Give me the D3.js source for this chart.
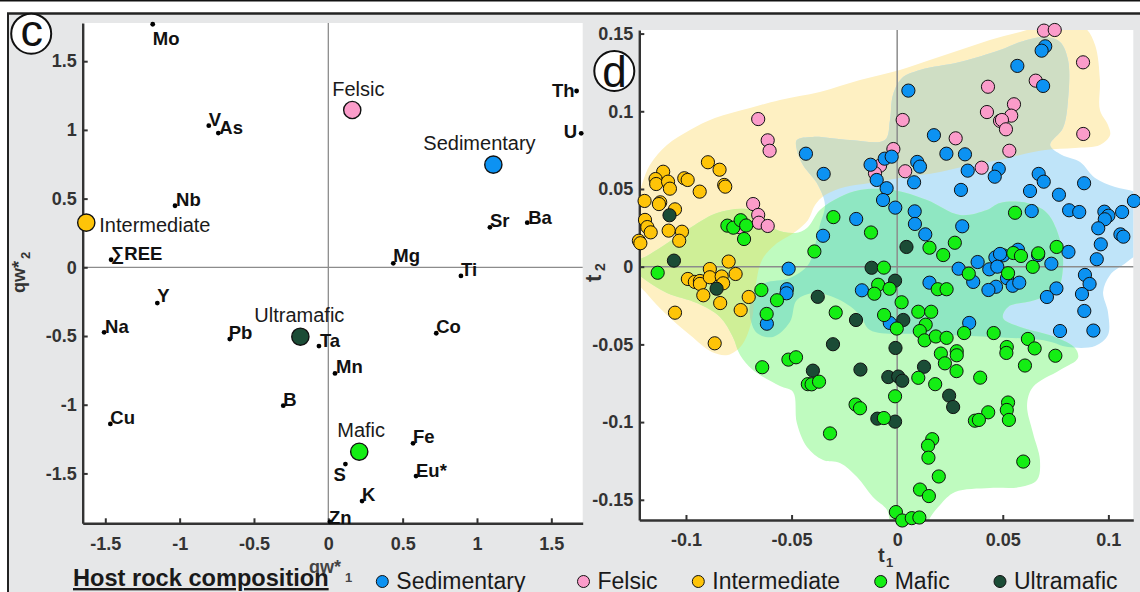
<!DOCTYPE html>
<html><head><meta charset="utf-8">
<script src="https://cdn.jsdelivr.net/npm/d3@7"></script>
<style>
body{margin:0;background:#fff;}
svg{display:block;}
</style></head><body>
<svg id="chart" width="1140" height="592"></svg>
<script>
// ---------- Panel c data ----------
const loadNames = ["Mo","V","As","Nb","∑REE","Y","Na","Pb","B","Cu","Ta","Mn","Co","Fe","Eu*","S","K","Zn","Mg","Ti","Sr","Ba","Th","U"];
const loadX = [-1.181,-0.804,-0.740,-1.031,-1.461,-1.150,-1.508,-0.663,-0.303,-1.466,-0.063,0.045,0.726,0.570,0.590,0.115,0.227,0.011,0.437,0.892,1.087,1.338,1.670,1.701];
const loadY = [1.769,1.031,0.977,0.448,0.055,-0.260,-0.473,-0.522,-1.007,-1.140,-0.573,-0.772,-0.480,-1.281,-1.519,-1.432,-1.701,-1.852,0.029,-0.063,0.291,0.325,1.283,0.975];
const groupNames = ["Sedimentary","Felsic","Intermediate","Mafic","Ultramafic"];
const centroidX = [1.110,0.161,-1.628,0.208,-0.188];
const centroidY = [0.747,1.145,0.325,-1.342,-0.505];
const ticksC = [-1.5,-1,-0.5,0,0.5,1,1.5];

// ---------- Panel d data (t1, t2) ----------
const ticksDx = [-0.1,-0.05,0,0.05,0.1];
const ticksDy = [-0.15,-0.1,-0.05,0,0.05,0.1,0.15];
const sedimentary = [[0.0701,0.1418],[0.0684,0.1390],[0.0569,0.1292],[0.0691,0.1163],[0.0053,0.1133],[0.0174,0.0846],[0.0233,0.0727],[0.0321,0.0723],[-0.0059,0.0695],[-0.0026,0.0708],[-0.0126,0.0656],[0.0095,0.0674],[0.0108,0.0644],[-0.0097,0.0558],[0.0080,0.0543],[0.0334,0.0618],[0.0481,0.0629],[0.0462,0.0579],[-0.0050,0.0505],[0.0302,0.0494],[0.0670,0.0597],[0.0694,0.0547],[0.0885,0.0537],[0.0629,0.0487],[0.0766,0.0463],[-0.0067,0.0429],[-0.0009,0.0380],[0.0083,0.0356],[0.0637,0.0358],[0.0814,0.0363],[0.0862,0.0352],[0.0981,0.0354],[0.1065,0.0352],[0.1121,0.0423],[0.1000,0.0328],[0.0983,0.0305],[0.0952,0.0247],[0.1057,0.0208],[0.1071,0.0193],[0.0084,0.0275],[0.0133,0.0208],[0.0308,0.0260],[0.0964,0.0144],[0.0945,0.0048],[0.0811,0.0095],[0.0667,0.0075],[0.0730,0.0019],[0.0572,0.0109],[0.0502,0.0073],[0.0465,0.0060],[0.0487,0.0082],[0.0436,-0.0017],[0.0474,0.0000],[0.0381,0.0030],[0.0291,-0.0013],[-0.0432,0.0727],[-0.0348,0.0597],[-0.0194,0.0307],[-0.0351,0.0199],[-0.0514,-0.0013],[0.0520,-0.0074],[0.0547,-0.0123],[0.0578,-0.0103],[0.0468,-0.0129],[0.0432,-0.0150],[0.0889,-0.0053],[0.0911,-0.0111],[0.0875,-0.0176],[0.0754,-0.0140],[0.0709,-0.0195],[0.0886,-0.0285],[0.0771,-0.0414],[0.0929,-0.0411],[0.0153,-0.0103],[0.0360,-0.0098],[-0.0167,-0.0152],[-0.0035,-0.0362],[0.0341,-0.0362],[-0.0522,-0.0145],[-0.0524,-0.0171],[-0.0617,-0.0367]];
const felsic = [[0.0695,0.1519],[0.0746,0.1523],[0.0880,0.1315],[0.0430,0.1158],[0.0656,0.1197],[0.0553,0.1045],[0.0425,0.0995],[0.0540,0.0972],[0.0487,0.0938],[0.0496,0.0944],[0.0515,0.0884],[0.0881,0.0854],[0.0026,0.0944],[0.0277,0.0826],[-0.0018,0.0757],[0.0531,0.0746],[-0.0081,0.0650],[-0.0105,0.0601],[0.0038,0.0614],[0.0400,0.0637],[-0.0658,0.0950],[-0.0613,0.0813],[-0.0604,0.0746],[-0.0682,0.0403],[-0.0658,0.0333],[-0.0655,0.0283],[-0.0613,0.0262],[-0.0745,0.0254]];
const intermediate = [[-0.0896,0.0672],[-0.0841,0.0624],[-0.1108,0.0611],[-0.1144,0.0564],[-0.1141,0.0532],[-0.1085,0.0547],[-0.1076,0.0502],[-0.1008,0.0569],[-0.0992,0.0558],[-0.0819,0.0526],[-0.0814,0.0515],[-0.0935,0.0483],[-0.1196,0.0423],[-0.1122,0.0414],[-0.1128,0.0403],[-0.1052,0.0369],[-0.1194,0.0301],[-0.1183,0.0255],[-0.1167,0.0221],[-0.1082,0.0232],[-0.1019,0.0225],[-0.1032,0.0167],[-0.1223,0.0167],[-0.1216,0.0151],[-0.0798,0.0033],[-0.0887,-0.0015],[-0.0991,-0.0079],[-0.0958,-0.0098],[-0.0934,-0.0092],[-0.0934,-0.0111],[-0.0887,-0.0068],[-0.0831,-0.0063],[-0.0765,-0.0047],[-0.0824,-0.0107],[-0.0918,-0.0184],[-0.0838,-0.0234],[-0.0703,-0.0195],[-0.0741,-0.0279],[-0.1052,-0.0296],[-0.0864,-0.0493]];
const mafic = [[-0.0804,0.0264],[-0.0776,0.0251],[-0.0741,0.0299],[-0.0715,0.0265],[-0.0725,0.0178],[-0.1134,-0.0039],[-0.0302,0.0319],[-0.0392,0.0098],[0.0558,0.0347],[-0.0124,0.0220],[0.0153,0.0122],[0.0218,0.0075],[0.0273,0.0154],[0.0755,0.0127],[0.0550,0.0088],[0.0586,0.0069],[0.0668,0.0086],[0.0642,-0.0001],[-0.0063,-0.0006],[0.0339,-0.0045],[0.0525,-0.0042],[-0.0643,-0.0150],[-0.0569,-0.0216],[-0.0618,-0.0304],[-0.0291,-0.0295],[-0.0090,-0.0116],[-0.0108,-0.0174],[-0.0036,-0.0142],[0.0021,-0.0229],[0.0100,-0.0290],[0.0161,-0.0290],[-0.0062,-0.0311],[-0.0002,-0.0398],[0.0192,-0.0145],[0.0234,-0.0145],[0.0317,-0.0427],[0.0135,-0.0373],[0.0107,-0.0414],[0.0130,-0.0474],[0.0183,-0.0449],[0.0234,-0.0458],[0.0457,-0.0427],[0.0619,-0.0465],[0.0651,-0.0526],[0.0519,-0.0517],[0.0517,-0.0555],[0.0749,-0.0573],[0.0207,-0.0559],[0.0282,-0.0544],[0.0282,-0.0570],[0.0226,-0.0622],[0.0281,-0.0672],[0.0605,-0.0636],[0.0100,-0.0715],[0.0180,-0.0756],[0.0393,-0.0714],[-0.0010,-0.0834],[-0.0197,-0.0887],[-0.0176,-0.0911],[0.0525,-0.0874],[0.0519,-0.0922],[0.0529,-0.0986],[0.0431,-0.0937],[0.0368,-0.0991],[0.0387,-0.0986],[-0.0063,-0.0974],[-0.0318,-0.1073],[0.0166,-0.1110],[0.0146,-0.1152],[0.0148,-0.1229],[0.0597,-0.1254],[0.0197,-0.1350],[0.0108,-0.1434],[0.0150,-0.1476],[-0.0006,-0.1579],[0.0024,-0.1633],[0.0069,-0.1618],[0.0105,-0.1614],[-0.0639,-0.0647],[-0.0515,-0.0598],[-0.0479,-0.0583],[-0.0423,-0.0756],[-0.0405,-0.0757],[-0.0370,-0.0740]];
const ultramafic = [[-0.1078,0.0331],[-0.1057,0.0039],[-0.0855,-0.0142],[0.0044,0.0127],[-0.0121,-0.0007],[-0.0010,-0.0090],[-0.0376,-0.0194],[-0.0195,-0.0343],[0.0029,-0.0343],[-0.0304,-0.0499],[-0.0008,-0.0523],[-0.0399,-0.0669],[-0.0174,-0.0662],[-0.0042,-0.0710],[0.0005,-0.0707],[0.0024,-0.0734],[0.0127,-0.0644],[0.0246,-0.0830],[0.0265,-0.0903],[-0.0094,-0.0978],[-0.0010,-0.0997]];

// ---------- Panel d shaded regions (outline vertices, t1/t2) ----------
const regionIntermediate = [[-0.1237,0.0397],[-0.1209,0.0526],[-0.1171,0.0654],[-0.1090,0.0783],[-0.0981,0.0880],[-0.0863,0.0957],[-0.0697,0.1021],[-0.0555,0.1073],[-0.0366,0.1124],[-0.0176,0.1201],[0.0013,0.1266],[0.0155,0.1330],[0.0297,0.1394],[0.0439,0.1459],[0.0582,0.1510],[0.0700,0.1555],[0.0795,0.1562],[0.0889,0.1536],[0.0937,0.1427],[0.0960,0.1201],[0.0960,0.1008],[0.0998,0.0912],[0.1008,0.0847],[0.0960,0.0783],[0.0842,0.0764],[0.0700,0.0751],[0.0582,0.0719],[0.0487,0.0687],[0.0345,0.0654],[0.0203,0.0609],[0.0013,0.0571],[-0.0129,0.0539],[-0.0247,0.0513],[-0.0342,0.0461],[-0.0389,0.0397],[-0.0422,0.0301],[-0.0484,0.0223],[-0.0579,0.0140],[-0.0640,0.0043],[-0.0673,-0.0150],[-0.0688,-0.0343],[-0.0735,-0.0504],[-0.0801,-0.0568],[-0.0877,-0.0549],[-0.0981,-0.0440],[-0.1100,-0.0298],[-0.1180,-0.0182],[-0.1237,-0.0086],[-0.1280,0.0150]];
const regionSedimentary = [[-0.0475,0.0815],[-0.0399,0.0835],[-0.0224,0.0815],[-0.0058,0.0815],[-0.0034,0.0944],[-0.0020,0.1105],[0.0023,0.1214],[0.0108,0.1266],[0.0297,0.1317],[0.0487,0.1394],[0.0582,0.1446],[0.0700,0.1478],[0.0771,0.1446],[0.0809,0.1330],[0.0809,0.1073],[0.0785,0.0893],[0.0724,0.0783],[0.0780,0.0719],[0.0866,0.0674],[0.0937,0.0571],[0.1032,0.0513],[0.1126,0.0481],[0.1174,0.0429],[0.1174,0.0140],[0.1088,0.0030],[0.1008,-0.0053],[0.0975,-0.0163],[0.0998,-0.0292],[0.0998,-0.0440],[0.0937,-0.0510],[0.0809,-0.0517],[0.0709,-0.0478],[0.0454,-0.0452],[0.0141,-0.0433],[-0.0129,-0.0407],[-0.0176,-0.0311],[-0.0271,-0.0214],[-0.0389,-0.0169],[-0.0475,-0.0214],[-0.0508,-0.0356],[-0.0588,-0.0452],[-0.0664,-0.0427],[-0.0697,-0.0311],[-0.0683,-0.0169],[-0.0626,-0.0105],[-0.0508,-0.0073],[-0.0422,0.0011],[-0.0389,0.0140],[-0.0366,0.0268],[-0.0342,0.0397],[-0.0375,0.0526],[-0.0446,0.0654],[-0.0475,0.0751]];
const regionMafic = [[-0.1237,0.0030],[-0.1185,0.0069],[-0.1109,0.0133],[-0.0996,0.0236],[-0.0853,0.0346],[-0.0711,0.0371],[-0.0636,0.0326],[-0.0579,0.0243],[-0.0484,0.0217],[-0.0427,0.0249],[-0.0366,0.0365],[-0.0271,0.0449],[-0.0176,0.0494],[-0.0020,0.0494],[0.0141,0.0429],[0.0297,0.0333],[0.0425,0.0365],[0.0487,0.0410],[0.0615,0.0410],[0.0709,0.0346],[0.0771,0.0172],[0.0785,-0.0002],[0.0757,-0.0150],[0.0653,-0.0214],[0.0525,-0.0259],[0.0501,-0.0330],[0.0582,-0.0388],[0.0747,-0.0452],[0.0842,-0.0523],[0.0856,-0.0588],[0.0771,-0.0665],[0.0643,-0.0774],[0.0615,-0.0890],[0.0643,-0.1070],[0.0676,-0.1244],[0.0662,-0.1373],[0.0582,-0.1418],[0.0439,-0.1424],[0.0274,-0.1450],[0.0203,-0.1533],[0.0155,-0.1617],[0.0132,-0.1694],[-0.0020,-0.1694],[-0.0048,-0.1566],[-0.0115,-0.1482],[-0.0190,-0.1353],[-0.0271,-0.1263],[-0.0351,-0.1244],[-0.0427,-0.1160],[-0.0475,-0.1006],[-0.0493,-0.0806],[-0.0555,-0.0768],[-0.0683,-0.0665],[-0.0744,-0.0568],[-0.0778,-0.0452],[-0.0839,-0.0324],[-0.0948,-0.0234],[-0.1090,-0.0169],[-0.1204,-0.0073],[-0.1237,-0.0034]];

// ---------- styles ----------
const FONT = '"Liberation Sans", Arial, Helvetica, sans-serif';
const colors = {Sedimentary:"#0c92f2", Felsic:"#fb9cca", Intermediate:"#fec408", Mafic:"#14ee14", Ultramafic:"#1b4c36"};
const regionFill = {Y:"#fef0c2", B:"#bfe4f9", G:"#bffbbf", YB:"#cfdec4", YG:"#cfef97", BG:"#8fe7c2", YBG:"#a9dcae"};
const loadOffsets = {"Mo":[0,21],"V":[0,0],"As":[1,1],"Nb":[1,0],"∑REE":[0,0],"Y":[0,-1],"Na":[1,1],"Pb":[-1,0],"B":[0,0],"Cu":[0,0],"Ta":[1,1],"Mn":[1,0],"Co":[0,0],"Fe":[0,0],"Eu*":[0,1],"S":[-12,17],"K":[0,0],"Zn":[-1,2],"Mg":[0,-1],"Ti":[0,0],"Sr":[0,0],"Ba":[1,1],"Th":[-2,6],"U":[-4,5]};
const groupLabelOffsets = {Sedimentary:[-70,-15], Felsic:[-20,-14], Intermediate:[13,9], Mafic:[-22,-15], Ultramafic:[-46,-15]};

const svg = d3.select("#chart").style("font-family", FONT);

// frame
svg.append("rect").attr("width",1140).attr("height",592).attr("fill","#fff");
svg.append("rect").attr("x",8).attr("y",13).attr("width",1132).attr("height",579).attr("fill","#e6e7e8");
svg.append("line").attr("x1",0).attr("x2",1140).attr("y1",0.75).attr("y2",0.75).attr("stroke","#111").attr("stroke-width",1.5);
svg.append("line").attr("x1",7).attr("x2",1140).attr("y1",13.5).attr("y2",13.5).attr("stroke","#222").attr("stroke-width",2.5);
svg.append("line").attr("x1",8).attr("x2",8).attr("y1",13).attr("y2",592).attr("stroke","#222").attr("stroke-width",2);

function styleAxis(g){
  g.select(".domain").attr("stroke","#333").attr("stroke-width",2.4);
  g.selectAll(".tick line").attr("stroke","#333").attr("stroke-width",2);
  g.selectAll(".tick text").attr("fill","#333").attr("font-size",18).attr("font-weight","bold").attr("font-family",FONT);
}

// ================= Panel c =================
const xC = d3.scaleLinear().domain([-1.652,1.711]).range([82.7,582.7]);
const yC = d3.scaleLinear().domain([-1.863,1.778]).range([523.3,23]);
const gC = svg.append("g");
gC.append("rect").attr("x",xC.range()[0]).attr("y",yC.range()[1]).attr("width",xC.range()[1]-xC.range()[0]).attr("height",yC.range()[0]-yC.range()[1]).attr("fill","#fff");
gC.append("line").attr("x1",xC(0)).attr("x2",xC(0)).attr("y1",yC.range()[1]).attr("y2",yC.range()[0]).attr("stroke","#8c8c8c").attr("stroke-width",1.3);
gC.append("line").attr("x1",xC.range()[0]).attr("x2",xC.range()[1]).attr("y1",yC(0)).attr("y2",yC(0)).attr("stroke","#8c8c8c").attr("stroke-width",1.3);

// axis labels c
svg.append("text").attr("transform",`translate(25,293) rotate(-90)`).attr("font-size",18).attr("font-weight","bold").attr("fill","#333").text("qw*");
svg.append("text").attr("transform",`translate(30,259) rotate(-90)`).attr("font-size",13).attr("font-weight","bold").attr("fill","#333").text("2");
svg.append("text").attr("x",309).attr("y",573).attr("font-size",18).attr("font-weight","bold").attr("fill","#444").text("qw*");
svg.append("text").attr("x",345).attr("y",582).attr("font-size",13).attr("font-weight","bold").attr("fill","#444").text("1");

const axCy = gC.append("g").attr("transform",`translate(${xC.range()[0]},0)`)
  .call(d3.axisLeft(yC).tickValues(ticksC).tickSizeInner(-5).tickSizeOuter(0).tickPadding(6).tickFormat(d=>String(d)));
styleAxis(axCy);
const axCx = gC.append("g").attr("transform",`translate(0,${yC.range()[0]})`)
  .call(d3.axisBottom(xC).tickValues(ticksC).tickSizeInner(-5).tickSizeOuter(0).tickPadding(14).tickFormat(d=>String(d)));
styleAxis(axCx);

// loadings
const loadings = loadNames.map((n,i)=>({name:n,x:loadX[i],y:loadY[i]}));
gC.selectAll("circle.load").data(loadings).join("circle").attr("class","load")
  .attr("cx",d=>xC(d.x)).attr("cy",d=>yC(d.y)).attr("r",2.4).attr("fill","#000");
gC.selectAll("text.load").data(loadings).join("text").attr("class","load")
  .attr("x",d=>xC(d.x)+loadOffsets[d.name][0]).attr("y",d=>yC(d.y)+loadOffsets[d.name][1])
  .attr("text-anchor",d=>(d.name==="Th"||d.name==="U")?"end":"start")
  .attr("font-size",18.5).attr("font-weight","bold").attr("fill","#111").text(d=>d.name);

// centroids
const cents = groupNames.map((n,i)=>({name:n,x:centroidX[i],y:centroidY[i]}));
gC.selectAll("circle.cent").data(cents).join("circle").attr("class","cent")
  .attr("cx",d=>xC(d.x)).attr("cy",d=>yC(d.y)).attr("r",8.6)
  .attr("fill",d=>colors[d.name]).attr("stroke","#111").attr("stroke-width",1.4);
gC.selectAll("text.cent").data(cents).join("text").attr("class","cent")
  .attr("x",d=>xC(d.x)+groupLabelOffsets[d.name][0]).attr("y",d=>yC(d.y)+groupLabelOffsets[d.name][1])
  .attr("font-size",20).attr("fill","#1a1a1a").text(d=>d.name);

// panel letter c
svg.append("circle").attr("cx",31.2).attr("cy",33.7).attr("r",20).attr("fill","#fff").attr("stroke","#111").attr("stroke-width",2);
svg.append("text").attr("x",31.8).attr("y",45.5).attr("text-anchor","middle").attr("font-size",45).attr("fill","#111").text("c");

// ================= Panel d =================
const xD = d3.scaleLinear().domain([-0.1221,0.1118]).range([639.3,1133.3]);
const yD = d3.scaleLinear().domain([-0.163,0.1523]).range([520,30]);
const gD = svg.append("g");
const regionLine = d3.line().x(d=>xD(d[0])).y(d=>yD(d[1])).curve(d3.curveCatmullRomClosed.alpha(0.5));
const pathY = regionLine(regionIntermediate), pathB = regionLine(regionSedimentary), pathG = regionLine(regionMafic);
const defs = gD.append("defs");
defs.append("clipPath").attr("id","clipD").append("rect")
  .attr("x",xD.range()[0]).attr("y",yD.range()[1]).attr("width",xD.range()[1]-xD.range()[0]).attr("height",yD.range()[0]-yD.range()[1]);
defs.append("clipPath").attr("id","clipY").append("path").attr("d",pathY);
defs.append("clipPath").attr("id","clipB").append("path").attr("d",pathB);
defs.append("clipPath").attr("id","clipG").append("path").attr("d",pathG);

gD.append("rect").attr("x",xD.range()[0]).attr("y",yD.range()[1]).attr("width",xD.range()[1]-xD.range()[0]).attr("height",yD.range()[0]-yD.range()[1]).attr("fill","#fff");

const gR = gD.append("g").attr("clip-path","url(#clipD)");
gR.append("path").attr("d",pathY).attr("fill",regionFill.Y);
gR.append("path").attr("d",pathB).attr("fill",regionFill.B);
gR.append("path").attr("d",pathG).attr("fill",regionFill.G);
gR.append("g").attr("clip-path","url(#clipB)").append("path").attr("d",pathY).attr("fill",regionFill.YB);
gR.append("g").attr("clip-path","url(#clipG)").append("path").attr("d",pathY).attr("fill",regionFill.YG);
gR.append("g").attr("clip-path","url(#clipG)").append("path").attr("d",pathB).attr("fill",regionFill.BG);
gR.append("g").attr("clip-path","url(#clipG)").append("g").attr("clip-path","url(#clipB)").append("path").attr("d",pathY).attr("fill",regionFill.YBG);

gD.append("line").attr("x1",xD(0)).attr("x2",xD(0)).attr("y1",yD.range()[1]).attr("y2",yD.range()[0]).attr("stroke","#8c8c8c").attr("stroke-width",1.5);
gD.append("line").attr("x1",xD.range()[0]).attr("x2",xD.range()[1]).attr("y1",yD(0)).attr("y2",yD(0)).attr("stroke","#8c8c8c").attr("stroke-width",1.5);

const axDy = gD.append("g").attr("transform",`translate(${xD.range()[0]},0)`)
  .call(d3.axisLeft(yD).tickValues(ticksDy).tickSizeInner(-5).tickSizeOuter(0).tickPadding(6).tickFormat(d=>String(d)));
styleAxis(axDy);
const axDx = gD.append("g").attr("transform",`translate(0,${yD.range()[0]})`)
  .call(d3.axisBottom(xD).tickValues(ticksDx).tickSizeInner(-5).tickSizeOuter(0).tickPadding(13).tickFormat(d=>String(d)));
styleAxis(axDx);

// points
const layers = [["Intermediate",intermediate],["Felsic",felsic],["Ultramafic",ultramafic],["Sedimentary",sedimentary],["Mafic",mafic]];
const gP = gD.append("g");
layers.forEach(([name,pts])=>{
  gP.append("g").selectAll("circle").data(pts).join("circle")
    .attr("cx",d=>xD(d[0])).attr("cy",d=>yD(d[1])).attr("r",6.6)
    .attr("fill",colors[name]).attr("stroke","#111").attr("stroke-width",1);
});

// axis labels d
svg.append("text").attr("transform",`translate(601,282) rotate(-90)`).attr("font-size",22).attr("font-weight","bold").attr("fill","#333").text("t");
svg.append("text").attr("transform",`translate(605,271) rotate(-90)`).attr("font-size",14).attr("font-weight","bold").attr("fill","#333").text("2");
svg.append("text").attr("x",878).attr("y",562).attr("font-size",20).attr("font-weight","bold").attr("fill","#333").text("t");
svg.append("text").attr("x",886).attr("y",567).attr("font-size",13).attr("font-weight","bold").attr("fill","#333").text("1");

// panel letter d
svg.append("circle").attr("cx",614.3).attr("cy",71).attr("r",20).attr("fill","#fff").attr("stroke","#111").attr("stroke-width",2);
svg.append("text").attr("x",614.5).attr("y",87).attr("text-anchor","middle").attr("font-size",44).attr("fill","#111").text("d");

// ================= Legend =================
svg.append("text").attr("x",73).attr("y",586).attr("font-size",23.6).attr("font-weight","bold").attr("fill","#1a1a1a")
  .style("text-decoration","underline").text("Host rock composition");
const legendX = {Sedimentary:382.3, Felsic:583.5, Intermediate:698.3, Mafic:880.7, Ultramafic:1000};
const legG = svg.append("g");
groupNames.forEach(n=>{
  legG.append("circle").attr("cx",legendX[n]).attr("cy",581.5).attr("r",6).attr("fill",colors[n]).attr("stroke","#111").attr("stroke-width",1);
  legG.append("text").attr("x",legendX[n]+14).attr("y",588.5).attr("font-size",23).attr("fill","#1a1a1a").text(n);
});
</script>
</body></html>
